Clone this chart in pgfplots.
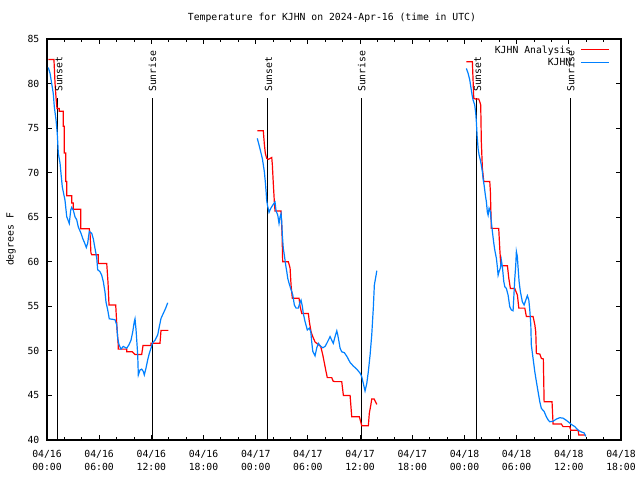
\documentclass[border=0pt]{standalone}
\usepackage{fontspec}
\setmonofont{DejaVu Sans Mono}
\usepackage{pgfplots}
\pgfplotsset{compat=1.18}
\definecolor{obsblue}{RGB}{0,128,255}
\newcommand{\gfont}{\ttfamily\fontsize{9.8}{13}\selectfont}
\begin{document}
\begin{tikzpicture}[font=\gfont]
\path[use as bounding box] (-47bp,-40bp) rectangle (593bp,440bp);
\begin{axis}[
  at={(0,0)}, anchor=south west,
  scale only axis, width=574bp, height=401bp,
  xmin=0, xmax=66, ymin=40, ymax=85,
  xtick={0,6,...,66},
  xticklabels={{04/16\\00:00},{04/16\\06:00},{04/16\\12:00},{04/16\\18:00},
               {04/17\\00:00},{04/17\\06:00},{04/17\\12:00},{04/17\\18:00},
               {04/18\\00:00},{04/18\\06:00},{04/18\\12:00},{04/18\\18:00}},
  minor x tick num=2,
  ytick={40,45,...,85},
  tick align=inside,
  major tick length=5bp, minor tick length=3bp,
  every tick/.style={black, line width=0.9bp},
  axis line style={line width=1.1bp},
  xticklabel style={align=center, inner sep=0pt, anchor=north, yshift=-10bp, font=\gfont},
  yticklabel style={inner sep=0pt, anchor=east, xshift=-7.5bp, font=\gfont},
  /pgf/number format/assume math mode=true,
  clip=false,
  unbounded coords=jump,
  legend style={draw=none, fill=none, at={(0.9808,0.9825)}, anchor=north east,
    inner sep=0pt, row sep=5.1bp, column sep=9bp,
    nodes={inner sep=0pt, text height=7.2bp, text depth=0pt, font=\gfont}},
  legend cell align=right, legend plot pos=right,
  legend image code/.code={\draw[#1] (0bp,0bp) -- (28.3bp,0bp);},
]
% sunset / sunrise lines
\addplot[black, line width=1.3bp, forget plot] coordinates {
 (1.2,40)(1.2,78.35)(1.2,nan)
 (12.13,40)(12.13,78.35)(12.13,nan)
 (25.33,40)(25.33,78.35)(25.33,nan)
 (36.18,40)(36.18,78.35)(36.18,nan)
 (49.37,40)(49.37,78.35)(49.37,nan)
 (60.23,40)(60.23,78.35)
};
% KJHN Analysis
\addplot[red, line width=1.2bp] coordinates {
 (0.15,82.7)(0.80,82.7)(0.92,80.1)(1.04,78.4)(1.15,77.2)(1.41,77.2)(1.41,76.9)(1.87,76.9)
 (1.87,75.2)(1.99,75.2)(1.99,72.2)(2.15,72.2)(2.15,69.0)(2.27,69.0)(2.27,67.4)(2.84,67.4)
 (2.84,66.6)(3.02,66.6)(3.02,65.9)(3.88,65.9)(3.88,63.7)(4.86,63.7)(4.95,63.2)(5.05,61.0)
 (5.14,60.8)(5.90,60.8)(5.90,59.8)(6.87,59.8)(7.02,57.6)(7.13,55.15)(7.90,55.15)(8.05,52.5)
 (8.17,51.0)(8.20,50.2)(9.17,50.2)(9.17,49.9)(9.81,49.9)(10.12,49.6)(10.89,49.6)(11.04,50.6)
 (11.96,50.6)(11.96,50.85)(12.99,50.85)(13.11,52.3)(13.95,52.3)
 (14,nan)
 (24.18,74.7)(24.87,74.7)(25.0,73.1)(25.1,72.2)(25.26,71.6)(25.45,71.5)(25.65,71.6)(25.84,71.7)
 (25.91,70.9)(26.02,68.8)(26.14,66.75)(26.22,65.7)(26.91,65.7)(27.03,63.0)(27.10,60.0)(27.75,60.0)
 (27.95,59.3)(28.06,57.4)(28.21,55.9)(28.98,55.9)(29.10,55.0)(29.29,54.2)(30.05,54.2)(30.16,53.3)
 (30.36,52.15)(30.56,51.6)(30.82,51.0)(31.20,50.7)(31.47,50.5)(31.71,49.55)(31.86,48.8)(32.08,47.7)
 (32.23,47.0)(32.74,47.0)(32.9,46.6)(33.12,46.55)(33.89,46.55)(34.08,45.0)(34.85,45.0)(35.04,42.6)
 (35.92,42.6)(36.19,41.6)(36.95,41.6)(37.06,43.0)(37.23,43.9)(37.34,44.6)(37.61,44.6)(37.92,44.0)
 (38,nan)
 (48.22,82.45)(48.91,82.45)(48.99,80.4)(49.07,78.35)(49.25,78.27)(49.64,78.27)(49.76,77.96)(49.87,77.6)
 (49.94,73.5)(50.06,70.5)(50.22,69.0)(50.91,69.0)(50.98,67.9)(51.09,63.75)(51.94,63.75)(52.06,61.5)
 (52.18,59.56)(52.94,59.56)(53.10,58.15)(53.28,57.0)(53.79,57.0)(54.09,56.25)(54.25,54.8)(54.94,54.8)
 (55.12,53.85)(55.89,53.85)(56.09,52.95)(56.20,52.1)(56.27,49.7)(56.66,49.65)(56.85,49.15)(57.07,49.1)
 (57.16,44.3)(58.07,44.3)(58.19,41.8)(59.14,41.8)(59.34,41.5)(60.10,41.5)(60.23,41.1)(61.07,41.1)
 (61.15,40.55)(61.90,40.55)
};
\addlegendentry{KJHN Analysis}
% KJHN observations
\addplot[obsblue, line width=1.2bp] coordinates {
 (0.15,81.8)(0.35,81.15)(0.54,80.0)(0.72,78.9)(0.84,77.4)(1.04,75.9)(1.18,74.4)(1.30,72.2)
 (1.50,71.05)(1.61,69.9)(1.76,68.4)(2.07,66.9)(2.27,65.05)(2.45,64.6)(2.56,64.3)(2.73,65.8)
 (2.84,66.1)(3.02,65.8)(3.22,65.05)(3.42,64.7)(3.60,63.9)(3.91,63.2)(4.11,62.6)(4.29,62.2)
 (4.52,61.6)(4.68,62.1)(4.86,63.4)(5.14,63.2)(5.32,62.6)(5.52,61.5)(5.72,60.4)(5.83,59.1)
 (6.09,58.9)(6.29,58.5)(6.47,57.8)(6.67,56.6)(6.78,55.5)(6.98,54.6)(7.16,53.6)(7.82,53.5)
 (8.02,52.9)(8.13,51.4)(8.28,50.7)(8.51,50.2)(8.77,50.5)(9.17,50.3)(9.43,50.7)(9.66,51.2)
 (9.86,52.15)(10.04,53.3)(10.12,53.6)(10.24,52.35)(10.43,49.55)(10.50,47.3)(10.69,47.85)(10.89,47.95)
 (11.07,47.7)(11.19,47.3)(11.38,48.05)(11.58,49.0)(11.76,49.7)(11.96,50.3)(12.11,50.85)(12.42,51.2)
 (12.73,51.8)(12.88,52.55)(13.11,53.65)(13.37,54.2)(13.65,54.8)(13.88,55.4)
 (14,nan)
 (24.18,73.85)(24.38,73.1)(24.57,72.35)(24.76,71.6)(24.87,70.9)(24.99,70.1)(25.10,69.0)(25.19,67.9)
 (25.26,66.9)(25.38,66.2)(25.53,65.55)(25.73,66.0)(26.02,66.45)(26.22,66.7)(26.34,65.7)(26.53,65.25)
 (26.68,64.3)(26.80,65.05)(26.91,65.4)(26.99,64.5)(27.06,63.0)(27.17,61.5)(27.29,60.75)(27.45,59.6)
 (27.57,58.9)(27.68,58.15)(27.83,57.6)(28.02,57.0)(28.26,56.3)(28.44,55.15)(28.64,54.8)(28.90,54.8)
 (29.10,55.5)(29.21,55.7)(29.36,55.0)(29.47,54.2)(29.67,53.3)(29.93,52.35)(30.16,52.55)(30.33,52.15)
 (30.44,51.0)(30.56,49.95)(30.82,49.45)(31.02,50.35)(31.20,50.85)(31.48,50.5)(31.71,50.35)(31.97,50.5)
 (32.17,50.85)(32.35,51.2)(32.55,51.6)(32.74,51.2)(32.92,50.85)(33.12,51.6)(33.32,52.25)(33.43,51.8)
 (33.58,51.0)(33.70,50.3)(33.89,49.9)(34.19,49.8)(34.47,49.4)(34.85,48.7)(35.22,48.3)(35.62,47.95)
 (36.0,47.5)(36.19,47.1)(36.37,46.35)(36.57,45.5)(36.77,46.35)(36.95,47.7)(37.15,49.55)(37.34,51.8)
 (37.52,54.8)(37.64,57.4)(37.84,58.5)(37.92,59.0)
 (38,nan)
 (48.22,81.7)(48.42,81.15)(48.61,80.4)(48.73,79.65)(48.88,78.7)(48.99,78.15)(49.18,77.6)(49.30,76.65)
 (49.37,75.7)(49.45,74.2)(49.57,72.7)(49.68,72.0)(49.83,71.4)(49.94,70.85)(50.06,70.1)(50.14,69.35)
 (50.26,68.6)(50.40,67.5)(50.52,66.75)(50.63,65.6)(50.72,65.25)(50.83,66.0)(50.98,65.6)(51.09,64.5)
 (51.21,63.4)(51.37,62.1)(51.49,61.3)(51.67,60.4)(51.78,59.45)(51.87,58.5)(51.98,58.9)(52.13,59.3)
 (52.24,60.2)(52.36,59.45)(52.52,57.8)(52.64,57.2)(52.82,57.0)(53.02,56.25)(53.21,54.95)(53.39,54.6)
 (53.59,54.5)(53.79,58.15)(53.90,59.65)(53.97,61.15)(54.08,60.6)(54.17,59.3)(54.28,57.8)(54.43,56.65)
 (54.66,55.5)(54.86,55.15)(55.05,55.7)(55.23,56.2)(55.40,55.7)(55.51,54.6)(55.63,52.9)(55.69,50.65)
 (55.89,49.15)(56.09,47.65)(56.27,46.55)(56.47,45.4)(56.66,44.3)(56.84,43.55)(57.16,43.2)(57.42,42.6)
 (57.62,42.25)(57.81,42.05)(58.19,42.1)(58.57,42.35)(58.96,42.5)(59.34,42.45)(59.72,42.2)(60.11,41.9)
 (60.29,41.75)(60.69,41.5)(61.07,41.1)(61.45,40.9)(61.76,40.8)(61.95,40.4)
};
\addlegendentry{KJHN}
% labels
\node[rotate=90, anchor=west, inner sep=0pt, font=\gfont] at (axis cs:1.35,79.05) {Sunset};
\node[rotate=90, anchor=west, inner sep=0pt, font=\gfont] at (axis cs:12.13,79.05) {Sunrise};
\node[rotate=90, anchor=west, inner sep=0pt, font=\gfont] at (axis cs:25.48,79.05) {Sunset};
\node[rotate=90, anchor=west, inner sep=0pt, font=\gfont] at (axis cs:36.18,79.05) {Sunrise};
\node[rotate=90, anchor=west, inner sep=0pt, font=\gfont] at (axis cs:49.52,79.05) {Sunset};
\node[rotate=90, anchor=west, inner sep=0pt, font=\gfont] at (axis cs:60.23,79.05) {Sunrise};
\node[font=\gfont, yshift=21bp] at (axis description cs:0.4965,1) {Temperature for KJHN on 2024-Apr-16 (time in UTC)};
\node[font=\gfont, xshift=-36bp, rotate=90] at (axis description cs:0,0.5) {degrees F};
\end{axis}
\end{tikzpicture}
\end{document}
